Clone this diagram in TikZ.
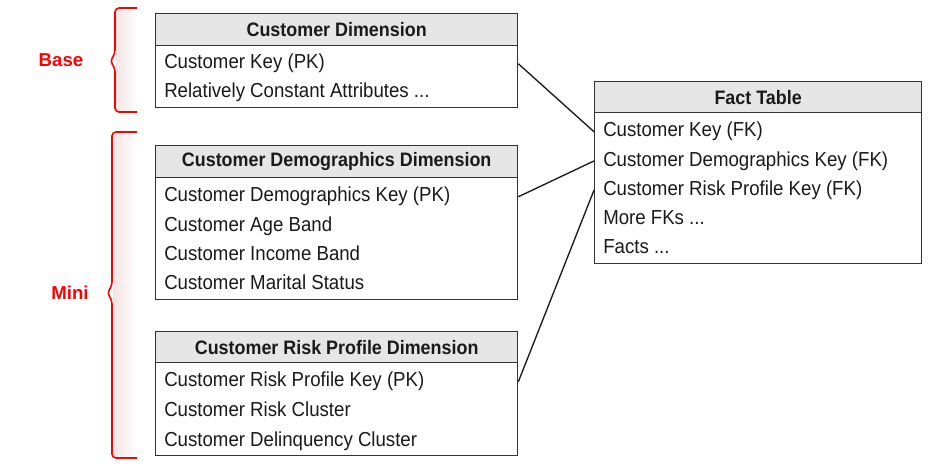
\documentclass[tikz,border=0pt]{standalone}
\usepackage{fontspec}
\setmainfont{Liberation Sans}
\newfontfamily\narrowfont[FakeStretch=0.92]{Liberation Sans}
\definecolor{boxline}{HTML}{333333}
\definecolor{headgray}{HTML}{E6E6E6}
\definecolor{rowtext}{HTML}{1A1A1A}
\definecolor{bracepink}{HTML}{F4E4E4}
\tikzset{
  tblhead/.style={draw=boxline, fill=headgray, line width=1pt, inner sep=0pt,
    anchor=north west, text=rowtext, font=\narrowfont\fontsize{14.6}{17}\selectfont\bfseries},
  tblbody/.style={draw=boxline, line width=1pt, inner sep=0pt, anchor=north west},
  row/.style={anchor=base west, inner sep=0pt, text=rowtext, font=\narrowfont\fontsize{15.2}{18}\selectfont},
  link/.style={draw=rowtext, line width=1pt},
  bracered/.style={draw=red, line width=1.2pt, rounded corners=3pt},
  bracelabel/.style={text=red, font=\fontsize{14}{17}\selectfont\bfseries}
}
\begin{document}
\begin{tikzpicture}[x=0.75pt, y=-0.75pt]
  \useasboundingbox (0,0) rectangle (931,466);

  % braces on the left
  \shade [left color=bracepink, right color=white] (116,9) rectangle (137,111);
  \shade [left color=bracepink, right color=white] (113,133) rectangle (137,457);
  \draw [bracered] (137,8) -- (115,8) -- (115,54) -- (110,61) -- (115,68) -- (115,112) -- (137,112);
  \draw [bracered] (137,132) -- (112,132) -- (112,286) -- (107,293) -- (112,300) -- (112,458) -- (137,458);
  \node [bracelabel] (base) at (61,60) {Base};
  \node [bracelabel] (mini) at (70,293) {Mini};

  % customer dimension
  \node [tblhead, minimum width=271.5pt, minimum height=24pt] (cdhead) at (155,13) {Customer Dimension};
  \node [tblbody, minimum width=271.5pt, minimum height=46.5pt] (cd) at (155,45) {};
  \node [row] (cdkey) at (164,69) {Customer Key (PK)};
  \node [row] (cdattr) at (164,98) {Relatively Constant Attributes ...};

  % customer demographics dimension
  \node [tblhead, minimum width=271.5pt, minimum height=24pt] (demohead) at (155,145) {Customer Demographics Dimension};
  \node [tblbody, minimum width=271.5pt, minimum height=91.5pt] (demo) at (155,177) {};
  \node [row] (demokey) at (164,202) {Customer Demographics Key (PK)};
  \node [row] (demoage) at (164,231.2) {Customer Age Band};
  \node [row] (demoinc) at (164,260.4) {Customer Income Band};
  \node [row] (demomar) at (164,289.6) {Customer Marital Status};

  % customer risk profile dimension
  \node [tblhead, minimum width=271.5pt, minimum height=23.25pt] (riskhead) at (155,331) {Customer Risk Profile Dimension};
  \node [tblbody, minimum width=271.5pt, minimum height=69.75pt] (risk) at (155,362) {};
  \node [row] (riskkey) at (164,387) {Customer Risk Profile Key (PK)};
  \node [row] (riskclus) at (164,416.5) {Customer Risk Cluster};
  \node [row] (riskdel) at (164,446) {Customer Delinquency Cluster};

  % fact table
  \node [tblhead, minimum width=245.25pt, minimum height=23.25pt] (facthead) at (594,81) {Fact Table};
  \node [tblbody, minimum width=245.25pt, minimum height=113.25pt] (fact) at (594,112) {};
  \node [row] (fkcust) at (603,137) {Customer Key (FK)};
  \node [row] (fkdemo) at (603,166.2) {Customer Demographics Key (FK)};
  \node [row] (fkrisk) at (603,195.4) {Customer Risk Profile Key (FK)};
  \node [row] (fkmore) at (603,224.6) {More FKs ...};
  \node [row] (facts) at (603,253.8) {Facts ...};

  % key links
  \draw [link] (cd.east |- cdkey) -- (fact.west |- fkcust);
  \draw [link] (demo.east |- demokey) -- (fact.west |- fkdemo);
  \draw [link] (risk.east |- riskkey) -- (fact.west |- fkrisk);
\end{tikzpicture}
\end{document}
